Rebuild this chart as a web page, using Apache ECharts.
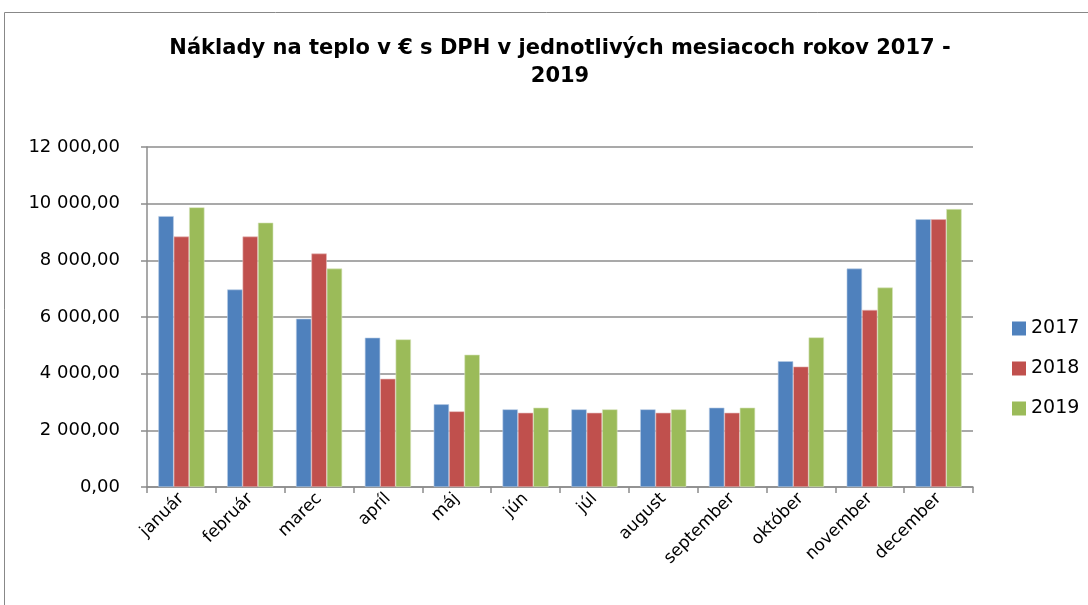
<!DOCTYPE html>
<html>
<head>
<meta charset="utf-8">
<script src="https://cdn.jsdelivr.net/npm/echarts@6/dist/echarts.min.js"></script>
<style>
  html, body { margin: 0; padding: 0; background: #fff; }
  #chart { width: 1088px; height: 605px; }
</style>
</head>
<body>
<div id="chart"></div>
<script>
const months = ['január', 'február', 'marec', 'apríl', 'máj', 'jún', 'júl', 'august', 'september', 'október', 'november', 'december']
const costs2017 = [9560, 6970, 5940, 5270, 2920, 2740, 2740, 2740, 2800, 4440, 7710, 9450]
const costs2018 = [8840, 8840, 8240, 3820, 2670, 2620, 2620, 2620, 2620, 4250, 6250, 9450]
const costs2019 = [9870, 9330, 7710, 5210, 4670, 2800, 2740, 2740, 2800, 5280, 7040, 9810]
const yTicks = [0, 2000, 4000, 6000, 8000, 10000, 12000]

const font = 'DejaVu Sans'

function fmt(v) {
  // 12000 -> "12 000,00"
  const s = String(Math.round(v)).replace(/\B(?=(\d{3})+(?!\d))/g, ' ')
  return s + ',00'
}

const chart = echarts.init(document.getElementById('chart'))
chart.setOption({
  animation: false,
  color: ['#4f81bd', '#c0504d', '#9bbb59'],
  title: {
    text: 'Náklady na teplo v € s DPH v jednotlivých mesiacoch rokov 2017 -\n2019',
    left: 555,
    textAlign: 'center',
    top: 30,
    textStyle: {
      fontFamily: font,
      fontSize: 21,
      fontWeight: 'bold',
      color: '#000',
      lineHeight: 28
    }
  },
  graphic: [{
    type: 'rect',
    shape: { x: 4.5, y: 12.5, width: 1100, height: 620 },
    style: { fill: 'none', stroke: '#888', lineWidth: 1 },
    silent: true,
    z: -1
  }],
  legend: {
    orient: 'vertical',
    left: 1007,
    top: 314,
    itemWidth: 14,
    itemHeight: 14,
    itemGap: 21,
    icon: 'rect',
    itemStyle: { borderWidth: 0 },
    textStyle: { fontFamily: font, fontSize: 19, color: '#000' },
    data: ['2017', '2018', '2019']
  },
  grid: {
    left: 147,
    right: 115,
    top: 147,
    bottom: 118
  },
  xAxis: {
    type: 'category',
    data: months,
    axisLine: { lineStyle: { color: '#8c8c8c', width: 1.5 } },
    axisTick: { show: true, length: 6, lineStyle: { color: '#8c8c8c', width: 1.5 } },
    axisLabel: {
      rotate: 45,
      interval: 0,
      margin: 9,
      fontFamily: font,
      fontSize: 17,
      color: '#000'
    }
  },
  yAxis: {
    type: 'value',
    min: yTicks[0],
    max: yTicks[yTicks.length - 1],
    interval: 2000,
    axisLine: { show: true, lineStyle: { color: '#8c8c8c', width: 1.5 } },
    axisTick: { show: true, length: 6, lineStyle: { color: '#8c8c8c', width: 1.5 } },
    splitLine: { lineStyle: { color: '#8c8c8c', width: 1.5 } },
    axisLabel: {
      margin: 27,
      fontFamily: font,
      fontSize: 18,
      color: '#000',
      formatter: fmt
    }
  },
  series: [{
    name: '2017',
    type: 'bar',
    barGap: '0%',
    barCategoryGap: '33%',
    itemStyle: { borderColor: '#b9cde5', borderWidth: 0.6 },
    data: costs2017
  }, {
    name: '2018',
    type: 'bar',
    itemStyle: { borderColor: '#e6b9b8', borderWidth: 0.6 },
    data: costs2018
  }, {
    name: '2019',
    type: 'bar',
    itemStyle: { borderColor: '#d7e4bd', borderWidth: 0.6 },
    data: costs2019
  }]
})
</script>
</body>
</html>
